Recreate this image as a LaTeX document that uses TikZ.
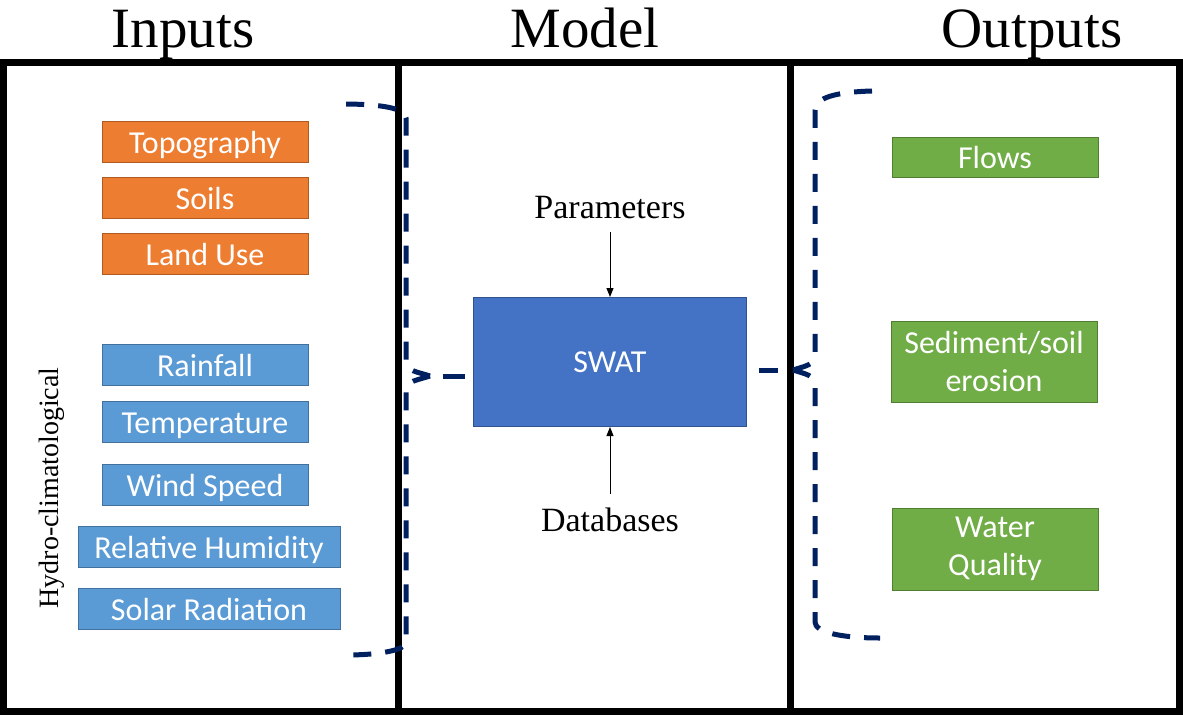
\documentclass[tikz,border=0pt]{standalone}
\usepackage{fontspec}
\setmainfont{Liberation Serif}
\newfontfamily\calibri{Carlito}
\usepackage{xcolor}
\usepackage{tikz}
\usetikzlibrary{arrows.meta,positioning}
\definecolor{soilorange}{HTML}{ED7D31}
\definecolor{soilorangeD}{HTML}{AE5A21}
\definecolor{climblue}{HTML}{5B9BD5}
\definecolor{climblueD}{HTML}{41719C}
\definecolor{swatblue}{HTML}{4472C4}
\definecolor{swatblueD}{HTML}{2F528F}
\definecolor{outgreen}{HTML}{70AD47}
\definecolor{outgreenD}{HTML}{507E32}
\definecolor{bracenavy}{HTML}{002060}

\begin{document}
\begin{tikzpicture}[x=1pt,y=-1pt,
    frame/.style={line width=7pt,black},
    databox/.style={minimum width=206pt,minimum height=41pt,inner sep=0pt,line width=1pt,text=white,align=center,font=\calibri\fontsize{32}{38}\selectfont},
    oneline/.style={text height=22pt,text depth=0pt},
    geobox/.style={databox,oneline,fill=soilorange,draw=soilorangeD},
    climbox/.style={databox,oneline,fill=climblue,draw=climblueD},
    outbox/.style={databox,fill=outgreen,draw=outgreenD},
    title/.style={anchor=base,font=\fontsize{57}{68}\selectfont},
    brace/.style={bracenavy,line width=5pt,dash pattern=on 18pt off 14pt},
    feed/.style={line width=1pt,-{Triangle[length=9pt,width=7pt]},shorten <=10pt}]
        \fill[white] (0,0) rectangle (1183,715);
        \useasboundingbox (0,0) rectangle (1183,715);
        % column titles and frame
        \node[title] (tin) at (183,47) {Inputs};
        \node[title] (tmod) at (585,47) {Model};
        \node[title] (tout) at (1032,47) {Outputs};
        \draw[frame] (3,62) rectangle (1179,711);
        \draw[frame] (398,62)--(398,711);
        \draw[frame] (790,62)--(790,711);
        % inputs
        \node[geobox] (topo) at (205,142) {Topography};
        \node[geobox] (soils) at (205,198) {Soils};
        \node[geobox] (landuse) at (205,254) {Land Use};
        \node[climbox] (rain) at (205,365) {Rainfall};
        \node[climbox] (temp) at (205,422) {Temperature};
        \node[climbox] (wind) at (205,485) {Wind Speed};
        \node[climbox,minimum width=262pt] (humid) at (209,547) {Relative Humidity};
        \node[climbox,minimum width=262pt] (solar) at (209,609) {Solar Radiation};
        \node[rotate=90,anchor=base west,font=\fontsize{28}{34}\selectfont] (hydro) at (58,612) {Hydro-climatological};
        % model
        \node[fill=swatblue,draw=swatblueD,line width=1pt,minimum width=273pt,minimum height=129pt,text=white,font=\calibri\fontsize{32}{38}\selectfont] (swat) at (610,362) {SWAT};
        \node[anchor=base,font=\fontsize{34}{40}\selectfont] (param) at (610,218) {Parameters};
        \node[anchor=base,font=\fontsize{34}{40}\selectfont] (dbase) at (610,531) {Databases};
        \draw[feed] (param.south)--(param.south|-swat.north);
        \draw[feed] (dbase.north)--(dbase.north|-swat.south);
        % outputs
        \node[outbox,oneline,minimum height=40pt] (flows) at (995,157) {Flows};
        \node[outbox,minimum height=81pt] (sed) at (994,362) {Sediment/soil\\erosion};
        \node[outbox,minimum height=82pt] (wq) at (995,549) {Water\\Quality};
        % dashed braces
        \coordinate (cuspL) at (430,376);
        \coordinate (cuspR) at (793,370);
        \draw[brace] (cuspL) .. controls (418,372) and (406,371) .. (406,362)--(406,118) .. controls (406,108) and (380,104) .. (342,104);
        \draw[brace] (cuspL) .. controls (418,380) and (406,381) .. (406,390)--(406,642) .. controls (406,650) and (380,655) .. (346,655);
        \draw[bracenavy,line width=5pt] ([xshift=13pt]cuspL)--([xshift=-8pt]swat.west|-cuspL);
        \draw[brace] (cuspR) .. controls (805,366) and (815,365) .. (815,355)--(815,110) .. controls (815,98) and (835,92) .. (872,91);
        \draw[brace] (cuspR) .. controls (805,374) and (815,375) .. (815,385)--(815,622) .. controls (815,632) and (840,638) .. (880,638);
        \draw[bracenavy,line width=5pt] ([xshift=12pt]swat.east|-cuspR)--([xshift=-15pt]cuspR);
\end{tikzpicture}
\end{document}
